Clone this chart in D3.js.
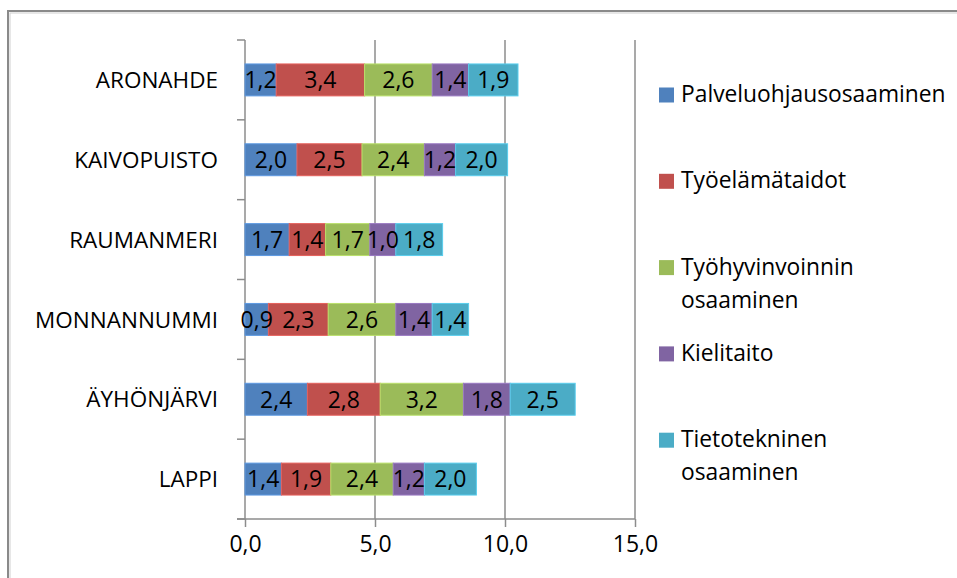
<!DOCTYPE html>
<html>
<head>
<meta charset="utf-8">
<script src="https://cdn.jsdelivr.net/npm/d3@7"></script>
<style>
  body { margin: 0; background: #fff; }
  svg text { font-family: "Open Sans", "Liberation Sans", sans-serif; fill: #000; }
</style>
</head>
<body>
<div id="chart"></div>
<script>
//chart data, top row first
var categories = ["ARONAHDE", "KAIVOPUISTO", "RAUMANMERI", "MONNANNUMMI", "ÄYHÖNJÄRVI", "LAPPI"];
var seriesNames = ["Palveluohjausosaaminen", "Työelämätaidot", "Työhyvinvoinnin osaaminen", "Kielitaito", "Tietotekninen osaaminen"];
var palveluohjaus = [1.2, 2.0, 1.7, 0.9, 2.4, 1.4];
var tyoelama = [3.4, 2.5, 1.4, 2.3, 2.8, 1.9];
var tyohyvinvointi = [2.6, 2.4, 1.7, 2.6, 3.2, 2.4];
var kielitaito = [1.4, 1.2, 1.0, 1.4, 1.8, 1.2];
var tietotekninen = [1.9, 2.0, 1.8, 1.4, 2.5, 2.0];
var xTicks = [0, 5, 10, 15];
var colors = ["#4F81BD", "#C0504D", "#9BBB59", "#8064A2", "#4BACC6"];

//set svg dimensions
var svgWidth = 957;
var svgHeight = 578;

//plot area
var plot = { left: 245, right: 635, top: 40, bottom: 519 };

var svg = d3.select("#chart").append("svg")
    .attr("width", svgWidth)
    .attr("height", svgHeight);

//outer chart border (cut off at right and bottom)
svg.append("rect")
    .attr("x", 8)
    .attr("y", 11)
    .attr("width", 1000)
    .attr("height", 1000)
    .attr("fill", "none")
    .attr("stroke", "#8a8a8a")
    .attr("stroke-width", 2);
svg.append("rect")
    .attr("x", 10)
    .attr("y", 13)
    .attr("width", 1000)
    .attr("height", 1000)
    .attr("fill", "none")
    .attr("stroke", "#d0d0d0")
    .attr("stroke-width", 1);

//build rows for the stack
var seriesValues = [palveluohjaus, tyoelama, tyohyvinvointi, kielitaito, tietotekninen];
var rows = categories.map(function(c, i) {
    var row = { cat: c };
    seriesNames.forEach(function(s, j) { row[s] = seriesValues[j][i]; });
    return row;
});

var stacked = d3.stack().keys(seriesNames)(rows);

//scales
var xScale = d3.scaleLinear()
    .domain([0, 15])
    .range([plot.left, plot.right]);

var yScale = d3.scaleBand()
    .domain(categories)
    .range([plot.top, plot.bottom])
    .paddingInner(0.6)
    .paddingOuter(0.3);

//vertical gridlines
svg.append("g")
    .selectAll("line")
    .data(xTicks.slice(1))
    .enter()
    .append("line")
    .attr("x1", d => xScale(d))
    .attr("x2", d => xScale(d))
    .attr("y1", plot.top)
    .attr("y2", plot.bottom)
    .attr("stroke", "#8c8c8c")
    .attr("stroke-width", 1.5);

//left axis: line and ticks between categories
var axisColor = "#8c8c8c";
svg.append("line")
    .attr("x1", plot.left).attr("x2", plot.left)
    .attr("y1", plot.top).attr("y2", plot.bottom)
    .attr("stroke", axisColor).attr("stroke-width", 1.5);

var yTickPos = d3.range(categories.length + 1).map(i => plot.top + i * (plot.bottom - plot.top) / categories.length);
svg.append("g")
    .selectAll("line")
    .data(yTickPos)
    .enter()
    .append("line")
    .attr("x1", plot.left - 8).attr("x2", plot.left)
    .attr("y1", d => d).attr("y2", d => d)
    .attr("stroke", axisColor).attr("stroke-width", 1.5);

//bars
var layers = svg.append("g")
    .selectAll("g")
    .data(stacked)
    .enter()
    .append("g")
    .attr("fill", (d, i) => colors[i])
    .attr("stroke", (d, i) => d3.color(colors[i]).brighter(0.5))
    .attr("stroke-width", 1);

layers.selectAll("rect")
    .data(d => d)
    .enter()
    .append("rect")
    .attr("x", d => xScale(d[0]))
    .attr("width", d => xScale(d[1]) - xScale(d[0]))
    .attr("y", d => yScale(d.data.cat))
    .attr("height", yScale.bandwidth());

//data labels, drawn above all bars
var labelLayers = svg.append("g")
    .selectAll("g")
    .data(stacked)
    .enter()
    .append("g");

labelLayers.selectAll("text")
    .data(d => d)
    .enter()
    .append("text")
    .attr("x", d => (xScale(d[0]) + xScale(d[1])) / 2)
    .attr("y", d => yScale(d.data.cat) + yScale.bandwidth() / 2)
    .attr("dy", "0.36em")
    .attr("text-anchor", "middle")
    .style("font-size", "23px")
    .text(d => d3.format(".1f")(d[1] - d[0]).replace(".", ","));

//category labels
svg.append("g")
    .selectAll("text")
    .data(categories)
    .enter()
    .append("text")
    .attr("x", 218)
    .attr("y", d => yScale(d) + yScale.bandwidth() / 2)
    .attr("dy", "0.36em")
    .attr("text-anchor", "end")
    .style("font-size", "22.5px")
    .text(d => d);

//bottom axis
var bottomAxis = d3.axisBottom(xScale)
    .tickValues(xTicks)
    .tickSize(8)
    .tickPadding(9)
    .tickFormat(d => d3.format(".1f")(d).replace(".", ","));

var xAxis = svg.append("g")
    .attr("transform", `translate(0, ${plot.bottom})`)
    .call(bottomAxis);

xAxis.select(".domain").remove();
xAxis.append("line")
    .attr("x1", plot.left - 8).attr("x2", plot.right)
    .attr("stroke", axisColor).attr("stroke-width", 1.5);
xAxis.selectAll(".tick line")
    .attr("stroke", axisColor).attr("stroke-width", 1.5);
xAxis.selectAll(".tick text")
    .attr("fill", "#000")
    .style("font-size", "23px")
    .style("font-family", "'Open Sans', sans-serif");

//legend
var legend = svg.append("g");
var legendLines = [["Palveluohjausosaaminen"], ["Työelämätaidot"], ["Työhyvinvoinnin", "osaaminen"], ["Kielitaito"], ["Tietotekninen", "osaaminen"]];

var items = legend.selectAll("g")
    .data(seriesNames)
    .enter()
    .append("g")
    .attr("transform", (d, i) => `translate(659, ${95 + i * 86.3})`);

items.append("rect")
    .attr("x", 0)
    .attr("y", -7.5)
    .attr("width", 15)
    .attr("height", 15)
    .attr("fill", (d, i) => colors[i]);

items.append("text")
    .attr("x", 22)
    .attr("y", 7)
    .style("font-size", "22.8px")
    .each(function(d, i) {
        var t = d3.select(this);
        legendLines[i].forEach(function(line, k) {
            t.append("tspan")
                .attr("x", 22)
                .attr("dy", k === 0 ? 0 : 33)
                .text(line);
        });
    });
</script>
</body>
</html>
